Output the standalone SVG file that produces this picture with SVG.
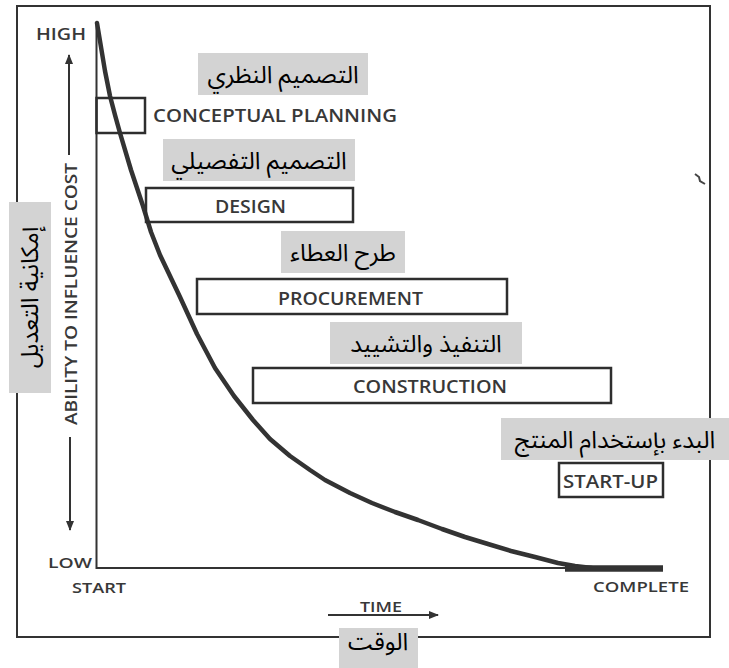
<svg xmlns="http://www.w3.org/2000/svg" width="729" height="668" viewBox="0 0 729 668">
<style>
.lat{font-family:"Open Sans","Liberation Sans",sans-serif;font-weight:600;fill:#383838;}
.box{fill:none;stroke:#2e2e2e;stroke-width:2.5;}
.ar{font-family:"Noto Sans Arabic","DejaVu Sans","Noto Sans",sans-serif;fill:#000;font-size:24px;text-anchor:middle;}
.tag{fill:#d3d3d3;}
.ln{stroke:#333;stroke-width:2;fill:none;}
</style>
<defs>
<marker id="ah" viewBox="0 0 10 10" refX="9" refY="5" markerWidth="10" markerHeight="10" markerUnits="userSpaceOnUse" orient="auto">
<path d="M0,1 L10,5 L0,9 Z" fill="#333"/>
</marker>
</defs>
<rect width="729" height="668" fill="#ffffff"/>
<g id="frame">
<rect x="17" y="6" width="693" height="631" fill="none" stroke="#333" stroke-width="2"/>
<path d="M695,174 L699,177 L700,181 L705,184" fill="none" stroke="#444" stroke-width="2"/>
</g>
<g id="connectors">
<path class="ln" d="M96.5,23 L96.5,568 L663,568"/>
<path d="M97,23 L101,47 L105,71 L110,96 L115,115 L120,133 L131,170 L143,206 L151,232 L160,255 L170,276 L180,297 L197,334 L215,368 L234,396 L253,420 L270,439 L290,456 L310,470 L325,480 L350,493 L372,503 L395,512 L418,520 L442,529 L465,537 L488,544 L511,551 L535,557 L558,563 L575,566 L592,568" fill="none" stroke="#333" stroke-width="4.5" stroke-linejoin="round" stroke-linecap="round"/>
<line x1="565" y1="568.5" x2="663" y2="568.5" stroke="#333" stroke-width="6.5"/>
<line x1="69" y1="155" x2="69" y2="55" stroke="#333" stroke-width="2" marker-end="url(#ah)"/>
<line x1="70" y1="437" x2="70" y2="530" stroke="#333" stroke-width="2" marker-end="url(#ah)"/>
<line x1="328" y1="615" x2="438" y2="615" stroke="#333" stroke-width="2" marker-end="url(#ah)"/>
</g>
<g id="axis-labels">
<text class="lat" x="36" y="40" font-size="16" textLength="50" lengthAdjust="spacingAndGlyphs">HIGH</text>
<text class="lat" x="48" y="568" font-size="15" textLength="44" lengthAdjust="spacingAndGlyphs">LOW</text>
<text class="lat" x="72" y="593" font-size="15" textLength="54" lengthAdjust="spacingAndGlyphs">START</text>
<text class="lat" x="593" y="592" font-size="15" textLength="96" lengthAdjust="spacingAndGlyphs">COMPLETE</text>
<text class="lat" x="360" y="612" font-size="14" textLength="42" lengthAdjust="spacingAndGlyphs">TIME</text>
<text class="lat" font-size="16" text-anchor="middle" transform="translate(77,294) rotate(-90)" textLength="262" lengthAdjust="spacingAndGlyphs">ABILITY TO INFLUENCE COST</text>
</g>
<g id="conceptual-planning">
<rect class="box" x="96.5" y="98" width="48.5" height="35"/>
<text class="lat" x="153" y="122" font-size="18" textLength="244" lengthAdjust="spacingAndGlyphs">CONCEPTUAL PLANNING</text>
</g>
<g id="design">
<rect class="box" x="146" y="188" width="207" height="34"/>
<text class="lat" x="215" y="213" font-size="18" textLength="71" lengthAdjust="spacingAndGlyphs">DESIGN</text>
</g>
<g id="procurement">
<rect class="box" x="197" y="279" width="310" height="35"/>
<text class="lat" x="278" y="305" font-size="18" textLength="145" lengthAdjust="spacingAndGlyphs">PROCUREMENT</text>
</g>
<g id="construction">
<rect class="box" x="253" y="368" width="358" height="35"/>
<text class="lat" x="353" y="393" font-size="18" textLength="154" lengthAdjust="spacingAndGlyphs">CONSTRUCTION</text>
</g>
<g id="start-up">
<rect class="box" x="559" y="463" width="104" height="34"/>
<text class="lat" x="563" y="488" font-size="18" textLength="95" lengthAdjust="spacingAndGlyphs">START-UP</text>
</g>
<g id="ar-conceptual">
<rect class="tag" x="198" y="53" width="170" height="42"/>
<text class="ar" x="283" y="83" font-size="23">التصميم النظري</text>
</g>
<g id="ar-design">
<rect class="tag" x="163" y="139" width="192" height="42"/>
<text class="ar" x="259" y="169">التصميم التفصيلي</text>
</g>
<g id="ar-procurement">
<rect class="tag" x="281" y="231" width="124" height="42"/>
<text class="ar" x="343" y="261">طرح العطاء</text>
</g>
<g id="ar-construction">
<rect class="tag" x="330" y="322" width="192" height="42"/>
<text class="ar" x="426" y="352">التنفيذ والتشييد</text>
</g>
<g id="ar-startup">
<rect class="tag" x="501" y="418" width="228" height="42"/>
<text class="ar" x="615" y="448">البدء بإستخدام المنتج</text>
</g>
<g id="ar-time">
<rect class="tag" x="339" y="628" width="79" height="40"/>
<text class="ar" x="378" y="650" font-size="22">الوقت</text>
</g>
<g id="ar-ability">
<rect class="tag" x="9" y="202" width="42" height="191"/>
<text class="ar" font-size="25" transform="translate(38,297.5) rotate(-90)">إمكانية التعديل</text>
</g>
</svg>
